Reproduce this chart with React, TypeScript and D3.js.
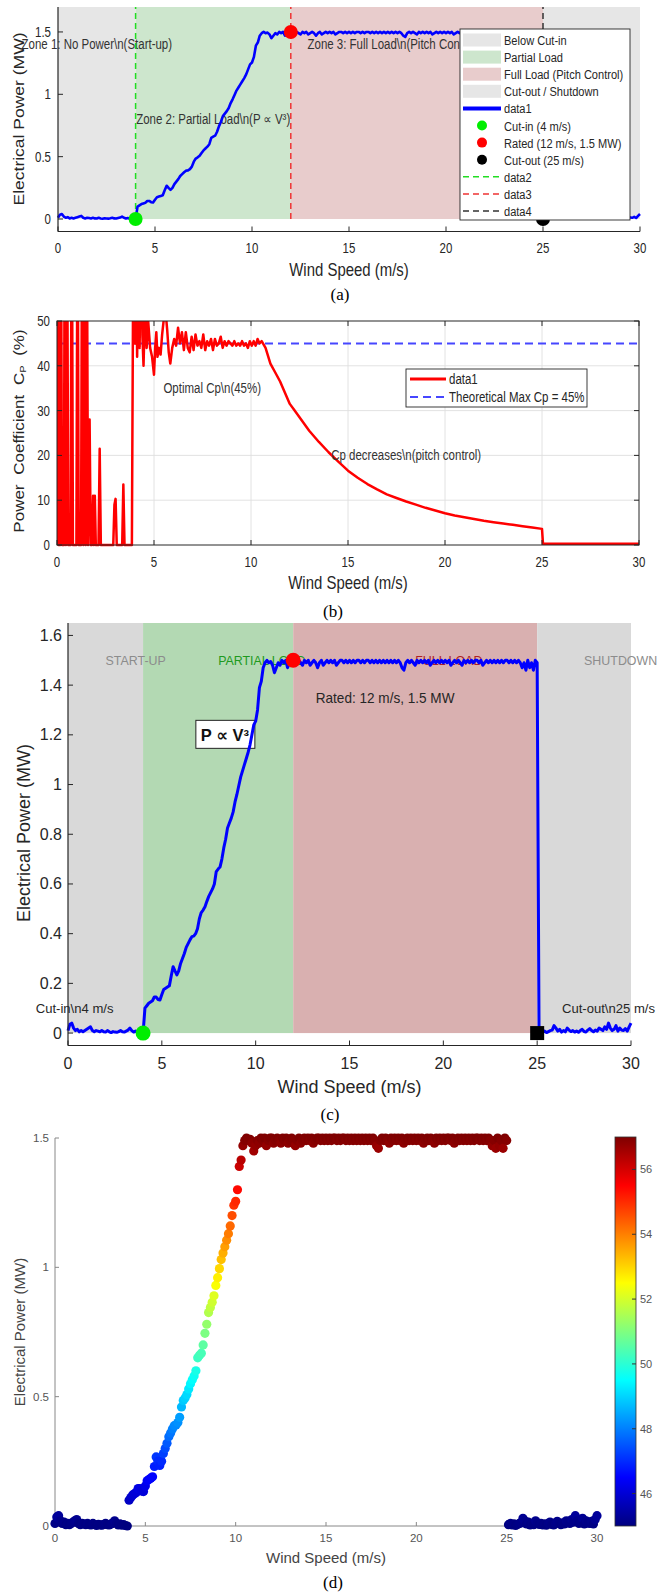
import React from 'react';
import * as d3 from 'd3';

// ---------- DATA ----------
const windSpeed = d3.range(301).map((i) => i / 10);

const powerMW = [
  0.01, 0.035, 0.04, 0.02, 0.01, 0.015, 0.005, 0.01, 0.005, 0.01,
  0.015, 0.02, 0.025, 0.01, 0.005, 0.01, 0.008, 0.005, 0.01, 0.005,
  0.004, 0.01, 0.005, 0.002, 0.006, 0.004, 0.003, 0.006, 0.01, 0.005,
  0.004, 0.008, 0.012, 0.02, 0.01, 0.004, 0.008, 0.003, 0.005, 0.002,
  0.0,
  0.1, 0.11, 0.12, 0.125, 0.13, 0.145, 0.145, 0.135, 0.133, 0.155,
  0.175, 0.18, 0.185, 0.19, 0.23, 0.267, 0.25, 0.234, 0.25, 0.28,
  0.3, 0.32, 0.345, 0.36, 0.375, 0.388, 0.39, 0.4, 0.42, 0.46,
  0.485, 0.495, 0.508, 0.53, 0.55, 0.565, 0.58, 0.6, 0.65, 0.66,
  0.668, 0.7, 0.745, 0.78, 0.825, 0.845, 0.865, 0.89, 0.93, 0.96,
  0.995, 1.03, 1.055, 1.08, 1.105, 1.13, 1.16, 1.2, 1.24, 1.255,
  1.3, 1.39, 1.415, 1.47, 1.49, 1.5, 1.49, 1.495, 1.48, 1.45,
  1.47, 1.49, 1.48, 1.5, 1.49, 1.5, 1.47, 1.49, 1.5, 1.5,
  1.48, 1.49, 1.5, 1.49, 1.48, 1.5, 1.49, 1.5, 1.48, 1.49,
  1.5, 1.49, 1.47, 1.49, 1.5, 1.48, 1.49, 1.5, 1.49, 1.5,
  1.49, 1.5, 1.48, 1.49, 1.5, 1.5, 1.49, 1.5, 1.49, 1.5,
  1.49, 1.5, 1.49, 1.5, 1.5, 1.49, 1.5, 1.49, 1.5, 1.5,
  1.49, 1.5, 1.49, 1.5, 1.49, 1.5, 1.49, 1.5, 1.49, 1.5,
  1.49, 1.5, 1.49, 1.5, 1.49, 1.5, 1.49, 1.47, 1.46, 1.49,
  1.5, 1.49, 1.5, 1.49, 1.48, 1.5, 1.49, 1.5, 1.49, 1.5,
  1.49, 1.5, 1.48, 1.49, 1.5, 1.49, 1.5, 1.49, 1.5, 1.49,
  1.5, 1.49, 1.5, 1.48, 1.49, 1.5, 1.49, 1.5, 1.49, 1.48,
  1.5, 1.49, 1.5, 1.49, 1.5, 1.49, 1.5, 1.5, 1.49, 1.5,
  1.48, 1.49, 1.5, 1.49, 1.5, 1.49, 1.5, 1.49, 1.5, 1.49,
  1.5, 1.49, 1.5, 1.5, 1.49, 1.5, 1.49, 1.5, 1.49, 1.5,
  1.49, 1.47, 1.49, 1.46, 1.5, 1.47, 1.49, 1.46, 1.5, 1.49,
  0.005, 0.01, 0.004, 0.008, 0.002, 0.006, 0.01, 0.012, 0.03, 0.02,
  0.008, 0.015, 0.004, 0.01, 0.005, 0.02, 0.012, 0.006, 0.01, 0.004,
  0.008, 0.003, 0.01, 0.015, 0.006, 0.004, 0.012, 0.018, 0.01, 0.005,
  0.012, 0.008, 0.02, 0.015, 0.01, 0.025, 0.015, 0.04, 0.02, 0.01,
  0.015, 0.03, 0.008, 0.02, 0.012, 0.01, 0.018, 0.008, 0.025, 0.04,
];

const cpWind = [
  0, 0.03, 0.08, 0.16, 0.2, 0.26, 0.36, 0.4, 0.46, 0.52, 0.58, 0.7, 0.76, 0.82, 1.0, 1.06, 1.12, 1.24, 1.3, 1.36,
  1.42, 1.48, 1.54, 1.6, 1.68, 1.74, 1.8, 1.86, 1.9, 1.95, 2.0, 2.14, 2.2, 2.26, 2.9, 2.96, 3.02, 3.08, 3.36, 3.42,
  3.48, 3.86, 3.92, 3.97, 4.02, 4.08, 4.13, 4.2, 4.26, 4.33, 4.4, 4.46, 4.55, 4.62, 4.7, 4.8, 4.9, 5.0, 5.06, 5.12,
  5.18, 5.26, 5.34, 5.42, 5.52, 5.6, 5.68, 5.76, 5.84, 5.94, 6.04, 6.14, 6.24, 6.34, 6.44, 6.54, 6.64, 6.74, 6.84, 6.94,
  7.04, 7.14, 7.24, 7.34, 7.44, 7.54, 7.64, 7.74, 7.84, 7.94, 8.04, 8.14, 8.24, 8.34, 8.44, 8.54, 8.64, 8.74, 8.84, 8.94,
  9.04, 9.14, 9.24, 9.34, 9.44, 9.54, 9.64, 9.74, 9.84, 9.94, 10.04, 10.14, 10.24, 10.34, 10.44, 10.55,
  10.75, 11.0, 11.25, 11.5, 11.75, 12.0, 12.25, 12.5, 12.75, 13.0, 13.5, 14.0, 14.5, 15.0, 15.5, 16.0, 16.5, 17.0,
  17.5, 18.0, 18.5, 19.0, 19.5, 20.0, 20.5, 21.0, 21.5, 22.0, 22.5, 23.0, 23.5, 24.0, 24.5, 25.0, 25.05, 30,
];
const cpValue = [
  0, 90, 0, 0, 85, 0, 0, 95, 0, 80, 0, 0, 90, 0, 0, 85, 0, 0, 90, 0,
  70, 0, 75, 0, 28, 0, 0, 11, 0, 11, 0, 0, 21.5, 0, 0, 9, 10.3, 0, 0, 13.5,
  0, 0, 55, 90, 45, 70, 42, 60, 44, 80, 47, 40, 55, 44, 50, 44, 42, 38, 44, 47.5,
  42, 44, 42.5, 47, 51, 52, 48, 43, 40.5, 44, 46, 44.5, 48.5, 45, 47.5, 43.5, 47.5, 44, 43, 46.5,
  43.5, 47, 44.5, 45.5, 44, 47, 43.5, 45.5, 44.5, 46, 43.5, 46, 44.5, 45, 46.5, 44, 45.5, 44.5, 45.5, 45,
  44.5, 45.5, 44.5, 45, 44.5, 45.5, 44.5, 45, 44, 45.5, 44.5, 45.5, 44.5, 46, 45, 45.5,
  44, 40.5, 38.5, 36.5, 34, 31.5, 30, 28.5, 27, 25.5, 23, 20.7, 18.6, 16.6, 15.0, 13.6, 12.4, 11.3,
  10.5, 9.7, 9.0, 8.3, 7.7, 7.1, 6.6, 6.2, 5.8, 5.4, 5.1, 4.8, 4.5, 4.2, 3.9, 3.6, 0.3, 0.3,
];
const cpTheoreticalMax = 45;

const zoneEdges = [0, 4, 12, 25, 30];
const keyWind = [4, 12, 25];
const keyPower = [0, 1.5, 0];

const xTicks = [0, 5, 10, 15, 20, 25, 30];
const yTicksA = [0, 0.5, 1, 1.5];
const yTicksB = [0, 10, 20, 30, 40, 50];
const yTicksC = [0, 0.2, 0.4, 0.6, 0.8, 1, 1.2, 1.4, 1.6];
const yTicksD = [0, 0.5, 1, 1.5];
const cbTicks = [46, 48, 50, 52, 54, 56];

const legendLabelsA = [
  'Below Cut-in', 'Partial Load', 'Full Load (Pitch Control)', 'Cut-out / Shutdown', 'data1',
  'Cut-in (4 m/s)', 'Rated (12 m/s, 1.5 MW)', 'Cut-out (25 m/s)', 'data2', 'data3', 'data4',
];
const legendLabelsB = ['data1', 'Theoretical Max Cp = 45%'];
const zoneNamesC = ['START-UP', 'PARTIAL LOAD', 'FULL LOAD', 'SHUTDOWN'];

// ---------- STYLE ----------
const SANS = "'Liberation Sans', Arial, Helvetica, 'DejaVu Sans', sans-serif";
const SERIF = "'Liberation Serif', 'Times New Roman', serif";
const AX = '#262626';
const zoneFillA = ['#e6e6e6', '#cde6cd', '#e8cccc', '#e6e6e6'];
const zoneFillC = ['#d9d9d9', '#b3d9b3', '#d9b0b0', '#d9d9d9'];
const jetColors = ['#00007f', '#0000ff', '#00ffff', '#ffff00', '#ff0000', '#7f0000'];
const jetStops = [0, 0.125, 0.375, 0.625, 0.875, 1];
const jet = d3.scaleLinear<string>().domain(jetStops).range(jetColors).interpolate(d3.interpolateRgb);

type TP = {
  x: number; y: number; fs: number; anchor?: string; sx?: number; sy?: number; rot?: number;
  fill?: string; weight?: string | number; family?: string; ws?: number; children?: React.ReactNode;
};
const T = ({ x, y, fs, anchor = 'start', sx = 1, sy = 1, rot = 0, fill = AX, weight, family = SANS, ws, children }: TP) => (
  <text
    transform={`translate(${x},${y})${rot ? ` rotate(${rot})` : ''} scale(${sx},${sy})`}
    fontSize={fs}
    textAnchor={anchor as any}
    fill={fill}
    fontWeight={weight as any}
    fontFamily={family}
    style={ws ? { wordSpacing: ws } : undefined}
  >
    {children}
  </text>
);

// ---------- PANEL A ----------
function PanelA() {
  const x = d3.scaleLinear().domain([0, 30]).range([58, 640]);
  const y = d3.scaleLinear().domain([-0.1, 1.7]).range([231.5, 7]);
  const line = d3.line<number>().x((_, i) => x(windSpeed[i])).y((d) => y(d));
  const dashColors = ['#22dd22', '#ee3333', '#333333'];
  const markerColors = ['#00ee00', '#ff0000', '#000000'];
  const SX = 0.82;
  const lx0 = 463, lx1 = 501, ltx = 504;
  const ly = (i: number) => 40 + i * 17.1;
  return (
    <g>
      {zoneEdges.slice(0, -1).map((e, i) => (
        <rect key={i} x={x(e)} y={y(1.7)} width={x(zoneEdges[i + 1]) - x(e)} height={y(0) - y(1.7)} fill={zoneFillA[i]} />
      ))}
      <T x={x(2)} y={y(1.4) + 5} fs={14} sx={SX} anchor="middle" fill="#333">Zone 1: No Power\n(Start-up)</T>
      <T x={x(8)} y={y(0.8) + 5} fs={14} sx={SX} anchor="middle" fill="#333">Zone 2: Partial Load\n(P ∝ V³)</T>
      <T x={x(17.3)} y={y(1.4) + 5} fs={14} sx={SX} anchor="middle" fill="#333">Zone 3: Full Load\n(Pitch Control)</T>
      {keyWind.map((v, i) => (
        <line key={i} x1={x(v)} x2={x(v)} y1={y(0)} y2={y(1.7)} stroke={dashColors[i]} strokeWidth={1.5} strokeDasharray="6,4" />
      ))}
      <path d={line(powerMW) || ''} fill="none" stroke="#0000ff" strokeWidth={2.6} strokeLinejoin="round" />
      {keyWind.map((v, i) => (
        <circle key={i} cx={x(v)} cy={y(keyPower[i])} r={7} fill={markerColors[i]} />
      ))}
      {/* axes */}
      <line x1={x(0)} x2={x(30)} y1={y(-0.1)} y2={y(-0.1)} stroke={AX} strokeWidth={1.2} />
      <line x1={x(0)} x2={x(0)} y1={y(-0.1)} y2={y(1.7)} stroke={AX} strokeWidth={1.2} />
      {xTicks.map((t) => (
        <g key={t}>
          <line x1={x(t)} x2={x(t)} y1={y(-0.1)} y2={y(-0.1) - 5} stroke={AX} />
          <T x={x(t)} y={253} fs={14} sx={SX} anchor="middle">{String(t)}</T>
        </g>
      ))}
      {yTicksA.map((t) => (
        <g key={t}>
          <line x1={x(0)} x2={x(0) + 5} y1={y(t)} y2={y(t)} stroke={AX} />
          <T x={51} y={y(t) + 5} fs={14} sx={SX} anchor="end">{String(t)}</T>
        </g>
      ))}
      <T x={349} y={276} fs={18} sx={0.83} anchor="middle">Wind Speed (m/s)</T>
      <T x={24} y={119} fs={17.5} sy={0.82} rot={-90} anchor="middle">Electrical Power (MW)</T>
      {/* legend */}
      <rect x={460} y={29} width={170} height={191} fill="#fff" stroke={AX} strokeWidth={0.9} />
      {[0, 1, 2, 3].map((i) => (
        <rect key={i} x={lx0} y={ly(i) - 6.5} width={lx1 - lx0} height={13} fill={zoneFillA[i]} />
      ))}
      <line x1={lx0} x2={lx1} y1={ly(4)} y2={ly(4)} stroke="#0000ff" strokeWidth={4} />
      {[0, 1, 2].map((i) => (
        <circle key={i} cx={(lx0 + lx1) / 2} cy={ly(5 + i)} r={5} fill={markerColors[i]} />
      ))}
      {[0, 1, 2].map((i) => (
        <line key={i} x1={lx0} x2={lx1} y1={ly(8 + i)} y2={ly(8 + i)} stroke={dashColors[i]} strokeWidth={1.5} strokeDasharray="6,4" />
      ))}
      {legendLabelsA.map((l, i) => (
        <T key={i} x={ltx} y={ly(i) + 5} fs={13.5} sx={SX}>{l}</T>
      ))}
      <T x={340} y={300} fs={17} family={SERIF} anchor="middle" fill="#000">(a)</T>
    </g>
  );
}

// ---------- PANEL B ----------
function PanelB() {
  const x = d3.scaleLinear().domain([0, 30]).range([57, 639]);
  const y = d3.scaleLinear().domain([0, 50]).range([545, 321]);
  const line = d3.line<number>().x((_, i) => x(cpWind[i])).y((d) => y(d));
  const SX = 0.82;
  return (
    <g>
      <defs>
        <clipPath id="clipB">
          <rect x={x(0)} y={y(50)} width={x(30) - x(0)} height={y(0) - y(50) + 2} />
        </clipPath>
      </defs>
      <rect x={x(0)} y={y(50)} width={x(30) - x(0)} height={y(0) - y(50)} fill="#fff" />
      {xTicks.slice(1, -1).map((t) => (
        <line key={t} x1={x(t)} x2={x(t)} y1={y(0)} y2={y(50)} stroke="#dfdfdf" strokeWidth={0.9} />
      ))}
      {yTicksB.slice(1, -1).map((t) => (
        <line key={t} x1={x(0)} x2={x(30)} y1={y(t)} y2={y(t)} stroke="#dfdfdf" strokeWidth={0.9} />
      ))}
      <line x1={x(0)} x2={x(30)} y1={y(cpTheoreticalMax)} y2={y(cpTheoreticalMax)} stroke="#4646ff" strokeWidth={2} strokeDasharray="8,5" />
      <g clipPath="url(#clipB)">
        <path d={line(cpValue) || ''} fill="none" stroke="#ff0000" strokeWidth={2.5} strokeLinejoin="round" />
      </g>
      <rect x={x(0)} y={y(50)} width={x(30) - x(0)} height={y(0) - y(50)} fill="none" stroke={AX} strokeWidth={1} />
      {xTicks.map((t) => (
        <g key={t}>
          <line x1={x(t)} x2={x(t)} y1={y(0)} y2={y(0) - 5} stroke={AX} />
          <line x1={x(t)} x2={x(t)} y1={y(50)} y2={y(50) + 5} stroke={AX} />
          <T x={x(t)} y={567} fs={14} sx={SX} anchor="middle">{String(t)}</T>
        </g>
      ))}
      {yTicksB.map((t) => (
        <g key={t}>
          <line x1={x(0)} x2={x(0) + 5} y1={y(t)} y2={y(t)} stroke={AX} />
          <line x1={x(30)} x2={x(30) - 5} y1={y(t)} y2={y(t)} stroke={AX} />
          <T x={50} y={y(t) + 5} fs={14} sx={SX} anchor="end">{String(t)}</T>
        </g>
      ))}
      <T x={x(8)} y={y(35) + 5} fs={14} sx={SX} anchor="middle" fill="#333">Optimal Cp\n(45%)</T>
      <T x={x(18)} y={y(20) + 5} fs={14} sx={SX} anchor="middle" fill="#333">Cp decreases\n(pitch control)</T>
      {/* legend */}
      <rect x={406} y={369} width={181} height={38} fill="#fff" stroke={AX} strokeWidth={0.9} />
      <line x1={410} x2={446} y1={379} y2={379} stroke="#ff0000" strokeWidth={3} />
      <line x1={410} x2={446} y1={397} y2={397} stroke="#4646ff" strokeWidth={2} strokeDasharray="8,5" />
      {legendLabelsB.map((l, i) => (
        <T key={i} x={449} y={379 + i * 18 + 5} fs={14} sx={SX}>{l}</T>
      ))}
      <T x={348} y={589} fs={18} sx={0.83} anchor="middle">Wind Speed (m/s)</T>
      <text transform="translate(24,431) rotate(-90) scale(1,0.82)" fontSize={17} textAnchor="middle" fill={AX} fontFamily={SANS} style={{ wordSpacing: 5 }}>
        Power Coefficient C<tspan fontSize={11} dy={3}>P</tspan><tspan dy={-3}> (%)</tspan>
      </text>
      <T x={333} y={617} fs={17} family={SERIF} anchor="middle" fill="#000">(b)</T>
    </g>
  );
}

// ---------- PANEL C ----------
function PanelC() {
  const x = d3.scaleLinear().domain([0, 30]).range([68, 631]);
  const y = d3.scaleLinear().domain([-0.05, 1.65]).range([1045.5, 623]);
  const line = d3.line<number>().x((_, i) => x(windSpeed[i])).y((d) => y(d));
  const zoneTextFill = ['#8c8c8c', '#1e9a1e', '#b02020', '#8c8c8c'];
  const zoneTextAt = [2, 8, 18.5, 27.5];
  return (
    <g>
      {zoneEdges.slice(0, -1).map((e, i) => (
        <rect key={i} x={x(e)} y={y(1.65)} width={x(zoneEdges[i + 1]) - x(e)} height={y(0) - y(1.65)} fill={zoneFillC[i]} />
      ))}
      {zoneNamesC.map((n, i) => (
        <T key={i} x={x(zoneTextAt[i])} y={y(1.5) + 5} fs={13.5} sx={0.92} fill={zoneTextFill[i]}>{n}</T>
      ))}
      <T x={x(13.2)} y={y(1.35) + 5} fs={14} sx={0.97}>Rated: 12 m/s, 1.5 MW</T>
      <T x={x(0.35)} y={y(0.1) + 5} fs={13.5} sx={0.97} anchor="middle">Cut-in\n4 m/s</T>
      <T x={x(28.8)} y={y(0.1) + 5} fs={13.5} sx={0.97} anchor="middle">Cut-out\n25 m/s</T>
      <rect x={x(7) - 3.5} y={y(1.2) - 14.5} width={59} height={28} fill="#fff" stroke="#222" strokeWidth={1} />
      <T x={x(7) + 1.5} y={y(1.2) + 6} fs={16.5} weight="bold" fill="#111">P ∝ V³</T>
      <path d={line(powerMW) || ''} fill="none" stroke="#0000ff" strokeWidth={3} strokeLinejoin="round" />
      <circle cx={x(keyWind[0])} cy={y(keyPower[0])} r={7.5} fill="#00ee00" />
      <circle cx={x(keyWind[1])} cy={y(keyPower[1])} r={7.5} fill="#ff0000" />
      <rect x={x(keyWind[2]) - 7} y={y(keyPower[2]) - 7} width={14} height={14} fill="#000" />
      <line x1={x(0)} x2={x(30)} y1={y(-0.05)} y2={y(-0.05)} stroke={AX} strokeWidth={1.2} />
      <line x1={x(0)} x2={x(0)} y1={y(-0.05)} y2={y(1.65)} stroke={AX} strokeWidth={1.2} />
      {xTicks.map((t) => (
        <g key={t}>
          <line x1={x(t)} x2={x(t)} y1={y(-0.05)} y2={y(-0.05) - 5} stroke={AX} />
          <T x={x(t)} y={1069} fs={16} anchor="middle">{String(t)}</T>
        </g>
      ))}
      {yTicksC.map((t) => (
        <g key={t}>
          <line x1={x(0)} x2={x(0) + 5} y1={y(t)} y2={y(t)} stroke={AX} />
          <T x={62} y={y(t) + 5.5} fs={16} anchor="end">{String(t)}</T>
        </g>
      ))}
      <T x={349.5} y={1093} fs={18} anchor="middle">Wind Speed (m/s)</T>
      <T x={30} y={833} fs={18} rot={-90} anchor="middle">Electrical Power (MW)</T>
      <T x={330} y={1120} fs={17} family={SERIF} anchor="middle" fill="#000">(c)</T>
    </g>
  );
}

// ---------- PANEL D ----------
function PanelD() {
  const x = d3.scaleLinear().domain([0, 30]).range([55, 597]);
  const y = d3.scaleLinear().domain([0, 1.5]).range([1526, 1138]);
  const color = d3.scaleSequential((t: number) => jet(t)).domain([0, 1.5]);
  const cb = d3.scaleLinear().domain([45, 57]).range([1526, 1137]);
  const G = '#555';
  return (
    <g>
      <defs>
        <linearGradient id="jetGrad" x1="0" y1="1" x2="0" y2="0">
          {jetStops.map((s, i) => (
            <stop key={i} offset={s} stopColor={jetColors[i]} />
          ))}
        </linearGradient>
      </defs>
      <line x1={x(0)} x2={x(30)} y1={y(0)} y2={y(0)} stroke="#888" strokeWidth={1} />
      <line x1={x(0)} x2={x(0)} y1={y(0)} y2={y(1.5)} stroke="#888" strokeWidth={1} />
      {xTicks.map((t) => (
        <g key={t}>
          <line x1={x(t)} x2={x(t)} y1={y(0)} y2={y(0) - 4} stroke="#888" />
          <T x={x(t)} y={1542} fs={11.5} anchor="middle" fill={G}>{String(t)}</T>
        </g>
      ))}
      {yTicksD.map((t) => (
        <g key={t}>
          <line x1={x(0)} x2={x(0) + 4} y1={y(t)} y2={y(t)} stroke="#888" />
          <T x={49} y={y(t) + 4} fs={11.5} anchor="end" fill={G}>{String(t)}</T>
        </g>
      ))}
      {powerMW.map((p, i) => (
        <circle key={i} cx={x(windSpeed[i])} cy={y(p)} r={4.6} fill={color(p)} />
      ))}
      <rect x={615} y={cb(57)} width={21} height={cb(45) - cb(57)} fill="url(#jetGrad)" stroke="#333" strokeWidth={0.8} />
      {cbTicks.map((t) => (
        <g key={t}>
          <line x1={632} x2={636} y1={cb(t)} y2={cb(t)} stroke="#333" />
          <T x={640} y={cb(t) + 4} fs={11} fill={G}>{String(t)}</T>
        </g>
      ))}
      <T x={326} y={1563} fs={15} anchor="middle" fill="#444">Wind Speed (m/s)</T>
      <T x={25} y={1332} fs={15} rot={-90} anchor="middle" fill="#444">Electrical Power (MW)</T>
      <T x={333} y={1588} fs={17} family={SERIF} anchor="middle" fill="#000">(d)</T>
    </g>
  );
}

export default function App() {
  return (
    <svg width={662} height={1593} style={{ position: 'absolute', left: 0, top: 0, background: '#fff' }}>
      <PanelA />
      <PanelB />
      <PanelC />
      <PanelD />
    </svg>
  );
}
